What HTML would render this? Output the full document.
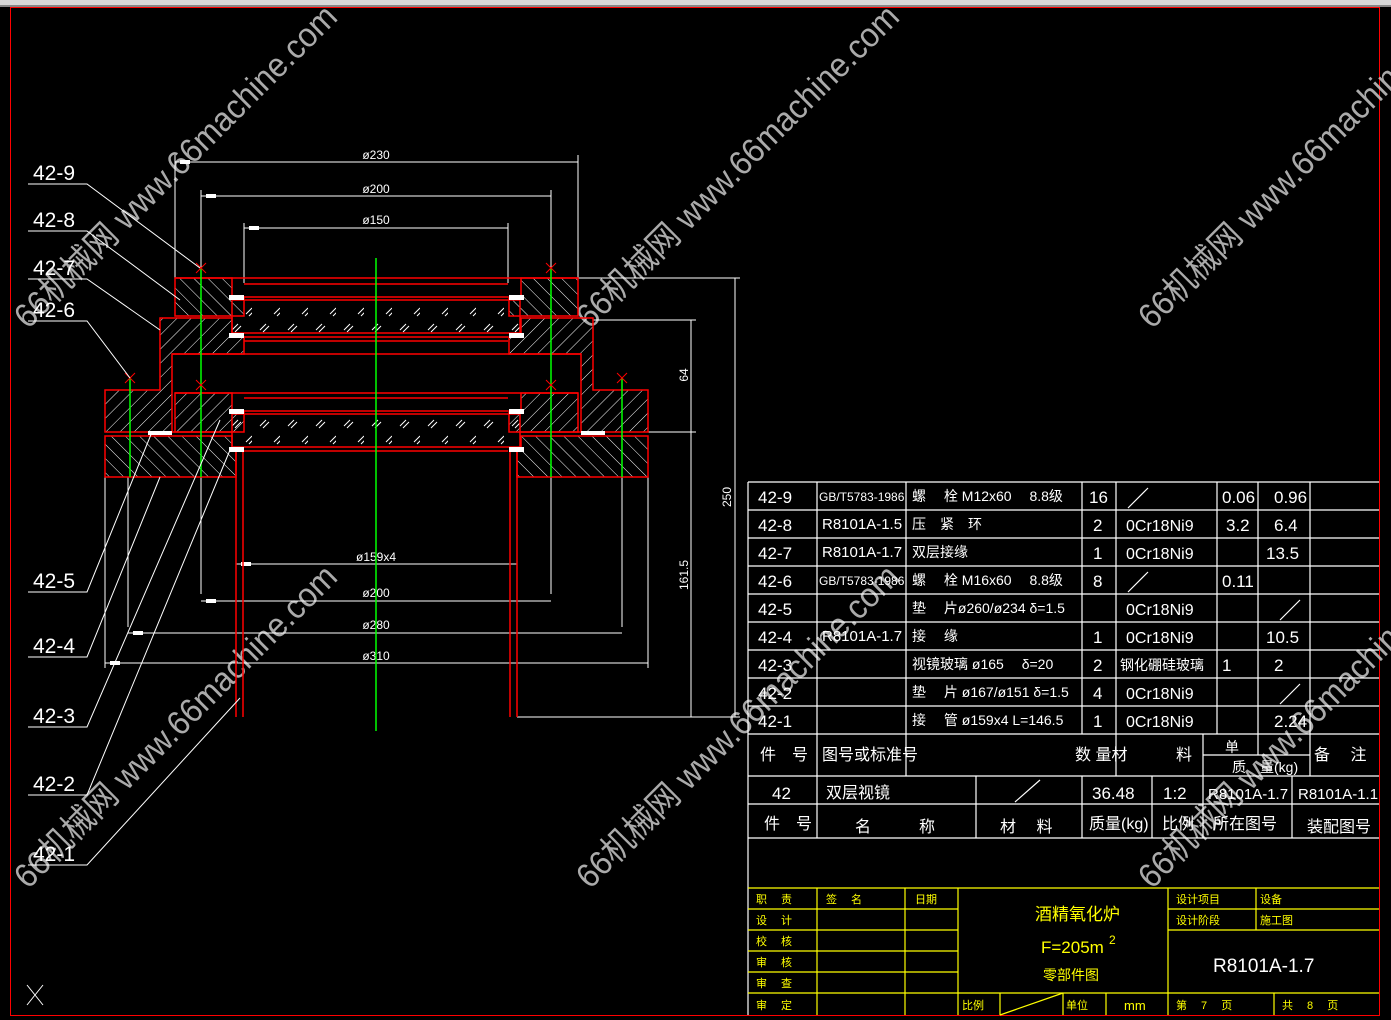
<!DOCTYPE html>
<html><head><meta charset="utf-8"><style>
html,body{margin:0;padding:0;background:#000;width:1391px;height:1020px;overflow:hidden}
svg{display:block}
text{font-family:"Liberation Sans","Noto Sans CJK SC",sans-serif}
</style></head><body>
<svg width="1391" height="1020" viewBox="0 0 1391 1020" xmlns="http://www.w3.org/2000/svg">
<defs>
<pattern id="hf" width="10" height="10" patternUnits="userSpaceOnUse" patternTransform="rotate(45)">
<line x1="0" y1="0" x2="0" y2="10" stroke="#fff" stroke-width="1"/></pattern>
<pattern id="hb" width="10" height="10" patternUnits="userSpaceOnUse" patternTransform="rotate(-45)">
<line x1="0" y1="0" x2="0" y2="10" stroke="#fff" stroke-width="1"/></pattern>
<pattern id="gl" width="28" height="32" patternUnits="userSpaceOnUse">
<path d="M8 10 l6 -6 M11 12 l6 -6 M22 26 l6 -6 M25 28 l6 -6" stroke="#fff" stroke-width="1"/></pattern>
</defs>
<rect x="0" y="0" width="1391" height="5" fill="#d8d8d8"/>
<rect x="0" y="5" width="1391" height="2" fill="#888"/>
<rect x="10.5" y="7.5" width="1369" height="1008" fill="none" stroke="#f00" stroke-width="1"/>

<g fill="#c8c8c8" fill-opacity="0.85" font-size="34" font-family="Liberation Sans,Noto Sans CJK SC,sans-serif">
<text transform="translate(28,330) rotate(-45)" textLength="440" lengthAdjust="spacingAndGlyphs">66机械网 www.66machine.com</text>
<text transform="translate(590,330) rotate(-45)" textLength="440" lengthAdjust="spacingAndGlyphs">66机械网 www.66machine.com</text>
<text transform="translate(1152,330) rotate(-45)" textLength="440" lengthAdjust="spacingAndGlyphs">66机械网 www.66machine.com</text>
<text transform="translate(28,890) rotate(-45)" textLength="440" lengthAdjust="spacingAndGlyphs">66机械网 www.66machine.com</text>
<text transform="translate(590,890) rotate(-45)" textLength="440" lengthAdjust="spacingAndGlyphs">66机械网 www.66machine.com</text>
<text transform="translate(1152,890) rotate(-45)" textLength="440" lengthAdjust="spacingAndGlyphs">66机械网 www.66machine.com</text>
</g>

<g stroke="#fff" stroke-width="1" fill="none">
<path d="M175 155V278 M578 155V278 M175 162H578"/>
<path d="M201 190V278 M551 190V278 M201 196H551"/>
<path d="M244 223V283 M508 223V283 M244 228H508"/>
<path d="M236 557V717 M517 557V717 M236 564H517"/>
<path d="M201 594V477 M551 594V477 M201 601H551"/>
<path d="M128 627V477 M622 627V477 M128 633H622"/>
<path d="M105 668V477 M648 668V477 M105 663H648"/>
<path d="M578 278H740 M593 320H696 M648 432H696 M517 717H740"/>
<path d="M735 278V717 M691 320V717"/>
</g>
<g fill="#fff">
<rect x="180" y="160" width="10" height="4"/><rect x="206" y="194" width="10" height="4"/><rect x="249" y="226" width="10" height="4"/>
<rect x="241" y="562" width="10" height="4"/><rect x="206" y="599" width="10" height="4"/><rect x="133" y="631" width="10" height="4"/><rect x="110" y="661" width="10" height="4"/>
</g>
<g fill="#fff" font-size="12" text-anchor="middle">
<text x="376" y="159">ø230</text><text x="376" y="193">ø200</text><text x="376" y="224">ø150</text>
<text x="376" y="561">ø159x4</text><text x="376" y="597">ø200</text><text x="376" y="629">ø280</text><text x="376" y="660">ø310</text>
<text transform="translate(731,497) rotate(-90)">250</text>
<text transform="translate(688,375) rotate(-90)">64</text>
<text transform="translate(688,575) rotate(-90)">161.5</text>
</g>

<g stroke="#f00" stroke-width="1.5">
<path d="M175 278H232V297H244V316H175Z" fill="url(#hb)"/>
<path d="M578 278H521V297H509V316H578Z" fill="url(#hb)"/>
<path d="M160 318H232V337H244V354H172V390H172V432H105V390H160Z" fill="url(#hf)"/>
<path d="M593 318H521V337H509V354H581V432H648V390H593Z" fill="url(#hf)"/>
<path d="M175 393H232V411H244V432H175Z" fill="url(#hf)"/>
<path d="M578 393H521V411H509V432H578Z" fill="url(#hf)"/>
<path d="M105 436H232V450H236V477H105Z" fill="url(#hb)"/>
<path d="M648 436H521V450H517V477H648Z" fill="url(#hb)"/>
<rect x="232" y="300" width="288" height="33" fill="url(#gl)"/>
<rect x="232" y="414" width="288" height="33" fill="url(#gl)"/>
<path d="M175 278H578 M244 284H508 M244 297H508 M244 337H508 M244 341H508 M172 354H581 M175 393H578 M244 398H508 M244 411H508 M244 451H508 M172 432H232 M521 432H581" fill="none"/>
<path d="M236 450V717 M243 450V717 M510 450V717 M517 450V717" fill="none"/>
</g>
<g fill="#fff">
<rect x="229" y="295" width="15" height="5"/><rect x="509" y="295" width="15" height="5"/>
<rect x="229" y="333" width="15" height="5"/><rect x="509" y="333" width="15" height="5"/>
<rect x="229" y="409" width="15" height="5"/><rect x="509" y="409" width="15" height="5"/>
<rect x="229" y="447" width="15" height="5"/><rect x="509" y="447" width="15" height="5"/>
<rect x="148" y="431" width="24" height="4"/><rect x="581" y="431" width="24" height="4"/>
</g>
<g stroke="#0f0" stroke-width="1.5">
<path d="M376 258V731 M201 268V477 M551 268V477 M130 378V477 M622 378V477"/>
</g>
<g stroke="#f00" stroke-width="1">
<path d="M196 263l10 10M206 263l-10 10 M546 263l10 10M556 263l-10 10 M196 380l10 10M206 380l-10 10 M546 380l10 10M556 380l-10 10 M125 373l10 10M135 373l-10 10 M617 373l10 10M627 373l-10 10"/>
</g>

<g stroke="#fff" stroke-width="1" fill="none">
<path d="M28 184H87L200 268"/>
<path d="M28 231H87L180 300"/>
<path d="M28 279H87L160 330"/>
<path d="M28 321H87L130 378"/>
<path d="M28 592H87L152 432"/>
<path d="M28 657H87L160 477"/>
<path d="M28 727H87L220 420"/>
<path d="M28 795H87L230 450"/>
<path d="M28 865H87L240 698"/>
<path d="M27 985l16 20M43 985l-16 20"/>
</g>
<g fill="#fff" font-size="21">
<text x="33" y="180">42-9</text><text x="33" y="227">42-8</text><text x="33" y="275">42-7</text><text x="33" y="317">42-6</text>
<text x="33" y="588">42-5</text><text x="33" y="653">42-4</text><text x="33" y="723">42-3</text><text x="33" y="791">42-2</text><text x="33" y="861">42-1</text>
</g>

<g stroke="#fff" stroke-width="1.2" fill="none">
<path d="M748 482H1379 M748 510H1379 M748 538H1379 M748 566H1379 M748 594H1379 M748 622H1379 M748 650H1379 M748 678H1379 M748 706H1379 M748 734H1379 M748 776H1379 M748 804H1379 M748 838H1379"/>
<path d="M748 482V1015 M817 482V776 M906 482V776 M1082 482V734 M1116 482V776 M1217 482V734 M1258 482V755 M1310 482V776 M1203 734V776 M1203 755H1310"/>
<path d="M817 776V838 M976 776V838 M1082 776V838 M1152 776V838 M1203 776V838 M1292 776V838"/>
<path d="M1148 488L1128 508 M1148 572L1128 592 M1300 600L1280 620 M1300 684L1280 704 M1040 780L1015 802"/>
</g>
<g fill="#fff" font-size="17">
<text x="758" y="503">42-9</text><text x="758" y="531">42-8</text><text x="758" y="559">42-7</text><text x="758" y="587">42-6</text><text x="758" y="615">42-5</text><text x="758" y="643">42-4</text><text x="758" y="671">42-3</text><text x="758" y="699">42-2</text><text x="758" y="727">42-1</text>
<text x="819" y="501" font-size="12">GB/T5783-1986</text><text x="822" y="529" font-size="15">R8101A-1.5</text><text x="822" y="557" font-size="15">R8101A-1.7</text><text x="819" y="585" font-size="12">GB/T5783-1986</text><text x="822" y="641" font-size="15">R8101A-1.7</text>
<text x="912" y="501" font-size="14">螺　 栓 M12x60　 8.8级</text>
<text x="912" y="529" font-size="14">压　紧　环</text>
<text x="912" y="557" font-size="14">双层接缘</text>
<text x="912" y="585" font-size="14">螺　 栓 M16x60　 8.8级</text>
<text x="912" y="613" font-size="14">垫　 片ø260/ø234 δ=1.5</text>
<text x="912" y="641" font-size="14">接　 缘</text>
<text x="912" y="669" font-size="14">视镜玻璃 ø165　 δ=20</text>
<text x="912" y="697" font-size="14">垫　 片 ø167/ø151 δ=1.5</text>
<text x="912" y="725" font-size="14">接　 管 ø159x4 L=146.5</text>
<text x="1089" y="503">16</text><text x="1093" y="531">2</text><text x="1093" y="559">1</text><text x="1093" y="587">8</text><text x="1093" y="643">1</text><text x="1093" y="671">2</text><text x="1093" y="699">4</text><text x="1093" y="727">1</text>
<g font-size="16"><text x="1126" y="531">0Cr18Ni9</text><text x="1126" y="559">0Cr18Ni9</text><text x="1126" y="615">0Cr18Ni9</text><text x="1126" y="643">0Cr18Ni9</text><text x="1120" y="670" font-size="14">钢化硼硅玻璃</text><text x="1126" y="699">0Cr18Ni9</text><text x="1126" y="727">0Cr18Ni9</text></g>
<text x="1222" y="503">0.06</text><text x="1226" y="531">3.2</text><text x="1222" y="587">0.11</text><text x="1222" y="671">1</text>
<text x="1274" y="503">0.96</text><text x="1274" y="531">6.4</text><text x="1266" y="559">13.5</text><text x="1266" y="643">10.5</text><text x="1274" y="671">2</text><text x="1274" y="727">2.24</text>
<text x="760" y="760" font-size="16">件　号</text><text x="822" y="760" font-size="16">图号或标准号</text><text x="1075" y="760" font-size="16">数 量材</text><text x="1096" y="760" font-size="16">　　　　　料</text>
<text x="1225" y="752" font-size="14">单</text><text x="1232" y="772" font-size="14">质　量(kg)</text><text x="1314" y="760" font-size="16">备　 注</text>
<text x="772" y="799">42</text><text x="826" y="798" font-size="16">双层视镜</text><text x="1092" y="799">36.48</text><text x="1163" y="799">1:2</text><text x="1208" y="799" font-size="15">R8101A-1.7</text><text x="1298" y="799" font-size="15">R8101A-1.1</text>
<text x="764" y="829" font-size="16">件　号</text><text x="855" y="832" font-size="16">名　　　称</text><text x="1000" y="832" font-size="16">材　 料</text><text x="1089" y="829" font-size="16">质量(kg)</text><text x="1162" y="829" font-size="16">比例</text><text x="1213" y="829" font-size="16">所在图号</text><text x="1307" y="832" font-size="16">装配图号</text>
</g>

<g stroke="#ff0" stroke-width="1.2" fill="none">
<path d="M748 888H1379 M748 909H958 M748 930H958 M748 951H958 M748 972H958 M748 993H1379 M1168 909H1379 M1168 930H1379"/>
<path d="M817 888V1015 M905 888V1015 M958 888V1015 M1000 993V1015 M1063 993V1015 M1106 993V1015 M1168 888V1015 M1256 888V930 M1274 993V1015"/>
<path d="M1000 1015L1063 993"/>
</g>
<g fill="#ff0" font-size="11">
<text x="756" y="903">职　 责</text><text x="826" y="903">签　 名</text><text x="915" y="903">日期</text>
<text x="756" y="924">设　 计</text><text x="756" y="945">校　 核</text><text x="756" y="966">审　 核</text><text x="756" y="987">审　 查</text><text x="756" y="1009">审　 定</text>
<text x="962" y="1009">比例</text><text x="1066" y="1009">单位</text><text x="1124" y="1010" font-size="13">mm</text>
<text x="1176" y="1009">第　 7　 页</text><text x="1282" y="1009">共　 8　 页</text>
<text x="1176" y="903">设计项目</text><text x="1260" y="903">设备</text><text x="1176" y="924">设计阶段</text><text x="1260" y="924">施工图</text>
<text x="1035" y="920" font-size="17">酒精氧化炉</text>
<text x="1041" y="953" font-size="17">F=205m</text><text x="1109" y="944" font-size="12">2</text>
<text x="1043" y="980" font-size="14">零部件图</text>
</g>
<text x="1213" y="972" fill="#fff" font-size="19">R8101A-1.7</text>
</svg>
</body></html>
